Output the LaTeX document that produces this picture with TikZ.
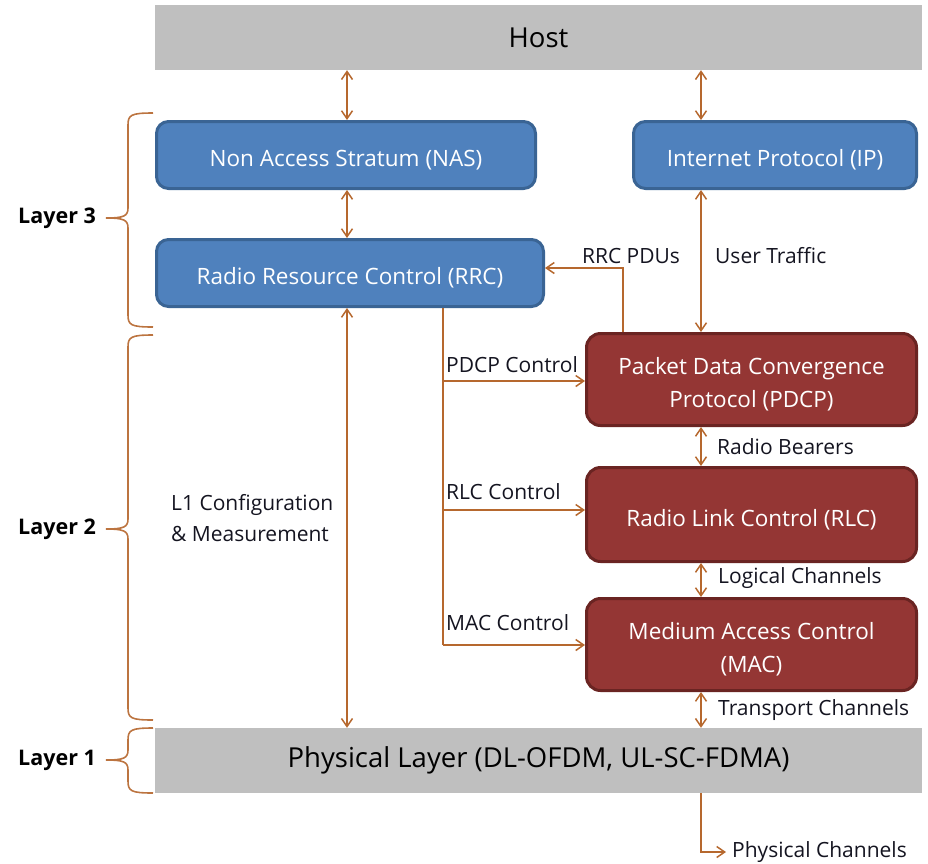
\documentclass[tikz,border=0pt]{standalone}
\usepackage{fontspec}
\setmainfont{Open Sans}
\usetikzlibrary{arrows.meta}
\definecolor{hostgray}{HTML}{BFBFBF}
\definecolor{bluefill}{HTML}{4F81BD}
\definecolor{blueline}{HTML}{3A6494}
\definecolor{redfill}{HTML}{943634}
\definecolor{redline}{HTML}{6A2422}
\definecolor{arrowc}{HTML}{B6682E}
\definecolor{bracec}{HTML}{BC7440}
\definecolor{labc}{HTML}{141420}
\tikzset{
  graybox/.style={fill=hostgray, draw=none, inner sep=0pt, font=\fontsize{27.5}{32}\selectfont, text=black},
  bluebox/.style={fill=bluefill, draw=blueline, line width=3pt, rounded corners=12pt, inner sep=0pt, text=white, font=\fontsize{22.5}{26}\selectfont, align=center, text height=27pt},
  redbox/.style={fill=redfill, draw=redline, line width=3pt, rounded corners=14pt, inner sep=0pt, text=white, font=\fontsize{22.5}{33}\selectfont, align=center, text height=27pt},
  twoline/.style={text height=60pt},
  conn/.style={draw=arrowc, line width=1.5pt},
  dbl/.style={conn, {Straight Barb[length=8pt,width=11pt]}-{Straight Barb[length=8pt,width=11pt]}},
  single/.style={conn, -{Straight Barb[length=8pt,width=11pt]}},
  lab/.style={font=\fontsize{21}{31}\selectfont, text=labc, inner sep=0pt},
  layerlab/.style={font=\bfseries\fontsize{21.5}{24}\selectfont, text=black, inner sep=0pt},
  bracepath/.style={draw=bracec, line width=1.6pt},
}
\newcommand\layerbrace[3]{% top, mid, bottom (y down)
  \draw[bracepath] (153,#1) .. controls (131,#1) and (128,#1+2) .. (128,#1+12)
    -- (128,#2-10) .. controls (128,#2-2) and (124,#2) .. (106,#2)
    (106,#2) .. controls (124,#2) and (128,#2+2) .. (128,#2+10)
    -- (128,#3-12) .. controls (128,#3-2) and (131,#3) .. (153,#3);}
\begin{document}
\begin{tikzpicture}[x=1pt,y=-1pt]
\useasboundingbox (0,0) rectangle (928,863);

% boxes
\node[graybox, minimum width=767pt, minimum height=65pt] (host) at (538.5,37.5) {Host};
\node[bluebox, minimum width=379pt, minimum height=67pt] (nas) at (346,155) {Non Access Stratum (NAS)};
\node[bluebox, minimum width=283pt, minimum height=67pt] (ip) at (775,155) {Internet Protocol (IP)};
\node[bluebox, minimum width=387pt, minimum height=67pt] (rrc) at (350,273) {Radio Resource Control (RRC)};
\node[redbox, twoline, minimum width=330pt, minimum height=92pt] (pdcp) at (751.5,379.5) {Packet Data Convergence\\Protocol (PDCP)};
\node[redbox, minimum width=330pt, minimum height=94pt] (rlc) at (751.5,514.5) {Radio Link Control (RLC)};
\node[redbox, twoline, minimum width=330pt, minimum height=92pt] (mac) at (751.5,644.5) {Medium Access Control\\(MAC)};
\node[graybox, minimum width=767pt, minimum height=65pt] (phys) at (538.5,760.5) {Physical Layer (DL-OFDM, UL-SC-FDMA)};

% reference x positions
\coordinate (xa) at (347,0);
\coordinate (xb) at (443,0);
\coordinate (xc) at (701,0);
\coordinate (xd) at (623,0);

% vertical double arrows
\draw[dbl] (host.south -| xa) -- (nas.north -| xa);
\draw[dbl] (host.south -| xc) -- (ip.north -| xc);
\draw[dbl] (nas.south -| xa) -- (rrc.north -| xa);
\draw[dbl] (ip.south -| xc) -- (pdcp.north -| xc);
\draw[dbl] (rrc.south -| xa) -- (phys.north -| xa);
\draw[dbl] (pdcp.south -| xc) -- (rlc.north -| xc);
\draw[dbl] (rlc.south -| xc) -- (mac.north -| xc);
\draw[dbl] (mac.south -| xc) -- (phys.north -| xc);

% RRC PDUs
\coordinate (pdu) at (623,268);
\draw[single] (pdcp.north -| xd) -- (pdu) -- (rrc.east |- pdu);

% control lines
\coordinate (cp) at (443,381);
\coordinate (cr) at (443,510);
\coordinate (cm) at (443,645);
\draw[conn] (rrc.south -| xb) -- (cm);
\draw[single] (cp) -- (pdcp.west |- cp);
\draw[single] (cr) -- (rlc.west |- cr);
\draw[single] (cm) -- (mac.west |- cm);

% physical channels
\node[lab, anchor=west] (physch) at (732,852) {Physical Channels};
\draw[single] (phys.south -| xc) |- ([xshift=-6pt]physch.west);

% labels
\node[lab] (lpdu) at (631,256) {RRC PDUs};
\node[lab, anchor=west] (lut) at (715,256) {User Traffic};
\node[lab, anchor=west] (lpc) at (446,365) {PDCP Control};
\node[lab, anchor=west] (lrc) at (446,492) {RLC Control};
\node[lab, anchor=west] (lmc) at (446,623) {MAC Control};
\node[lab, anchor=west] (lrb) at (717,447) {Radio Bearers};
\node[lab, anchor=west] (llc) at (718,578) {Logical Channels};
\node[lab, anchor=west] (ltc) at (718,710) {Transport Channels};
\node[lab, anchor=west, align=left] (ll1) at (171,518.5) {L1 Configuration\\\& Measurement};

% layer braces
\layerbrace{113}{218}{327}
\layerbrace{335}{529}{720}
\layerbrace{728}{760}{793}
\node[layerlab, anchor=west] (l3) at (18,218) {Layer 3};
\node[layerlab, anchor=west] (l2) at (18,529) {Layer 2};
\node[layerlab, anchor=west] (l1) at (18,760) {Layer 1};
\end{tikzpicture}
\end{document}
